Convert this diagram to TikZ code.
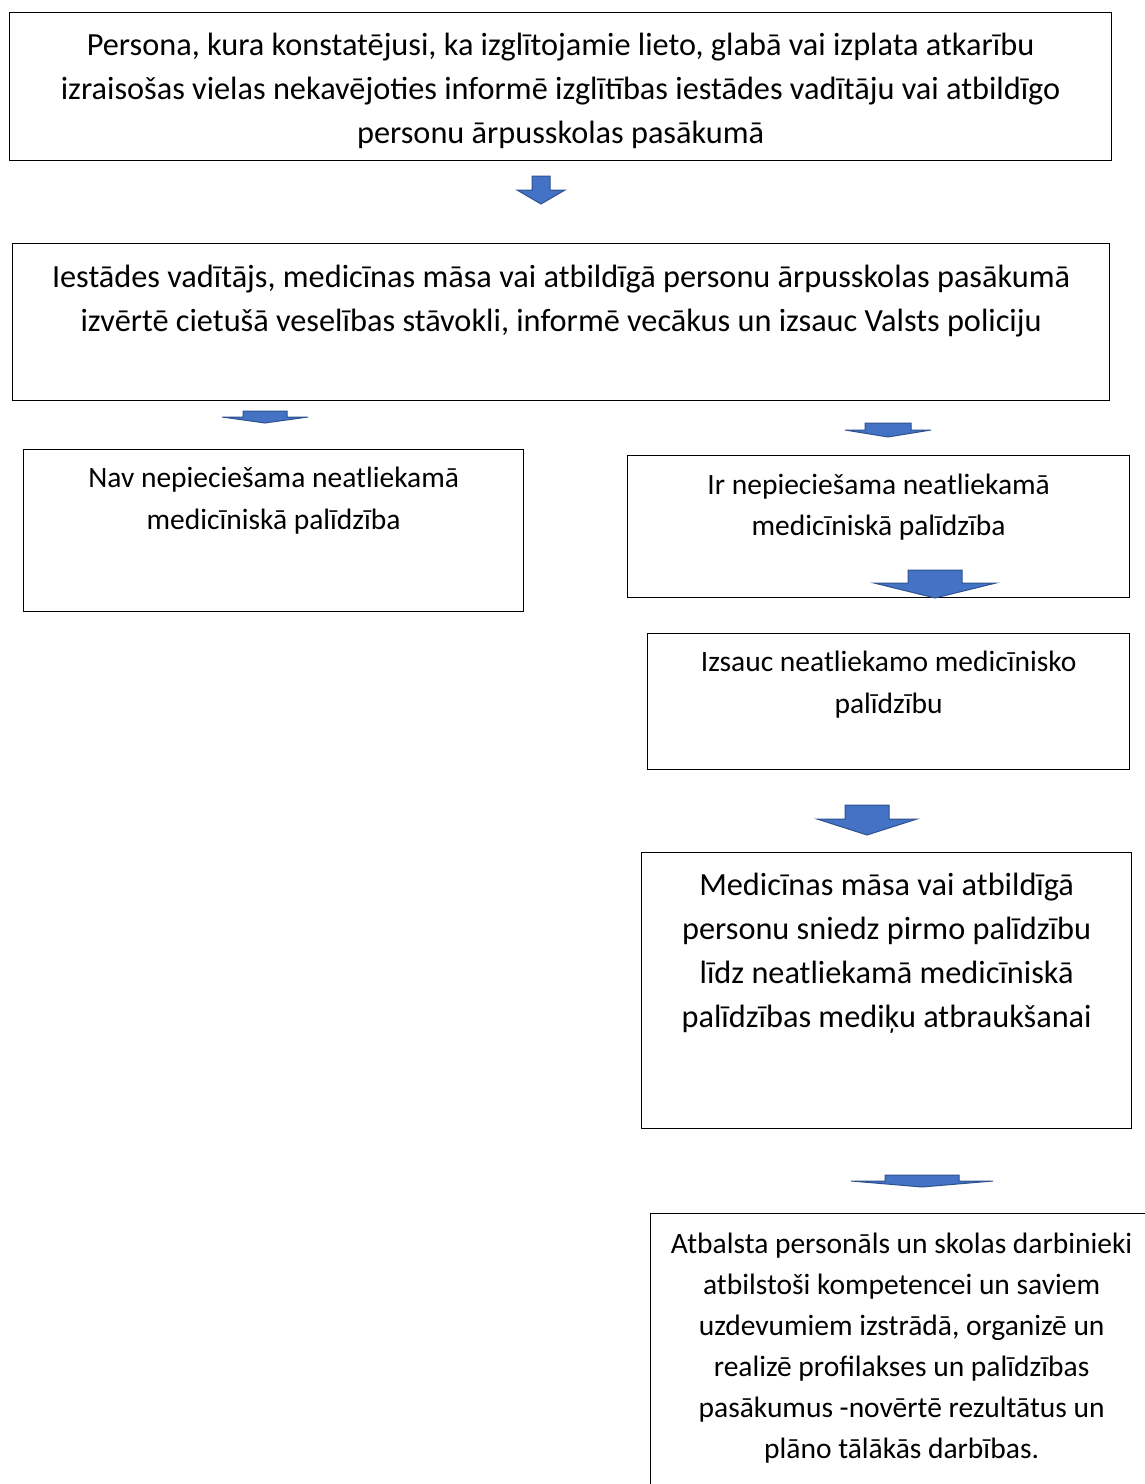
\documentclass[tikz,border=0pt]{standalone}
\usepackage{fontspec}
\setmainfont{Carlito}
\usepackage{tikz}
\usetikzlibrary{positioning}
\usepackage{xcolor}
\definecolor{flowblue}{RGB}{68,114,196}
\definecolor{flowdark}{RGB}{47,82,143}
\tikzstyle{stepbox} = [rectangle, draw=black, line width=1.3pt, anchor=north west, inner sep=0pt]
\tikzstyle{bigtext} = [align=center, inner sep=0pt, font=\fontsize{32.3}{44}\selectfont]
\tikzstyle{smalltext} = [align=center, inner sep=0pt, font=\fontsize{29.5}{42}\selectfont]
\tikzstyle{blockarrow} = [fill=flowblue, draw=flowdark, line width=1pt, line join=miter]
% block arrow: centre x, top y, half shaft, half head, head y, tip y
\newcommand{\downblock}[6]{\filldraw[blockarrow] ({#1-#3},#2) -- ({#1+#3},#2) -- ({#1+#3},#5) -- ({#1+#4},#5) -- (#1,#6) -- ({#1-#4},#5) -- ({#1-#3},#5) -- cycle;}

\begin{document}
\begin{tikzpicture}[x=1pt, y=-1pt]
\useasboundingbox (0,0) rectangle (1145,1484);
\clip (0,0) rectangle (1145,1484);
\fill[white] (0,0) rectangle (1145,1484);

% boxes
\node (persona) [stepbox, minimum width=1102pt, minimum height=148pt] at (9,12) {};
\node (vaditajs) [stepbox, minimum width=1097pt, minimum height=157pt] at (12,243) {};
\node (nav) [stepbox, minimum width=500pt, minimum height=162pt] at (23,449) {};
\node (ir) [stepbox, minimum width=502pt, minimum height=142pt] at (627,455) {};
\node (izsauc) [stepbox, minimum width=482pt, minimum height=136pt] at (647,633) {};
\node (masa) [stepbox, minimum width=490pt, minimum height=276pt] at (641,852) {};
\node (atbalsts) [stepbox, minimum width=502pt, minimum height=300pt] at (650,1213) {};

% texts
\node (personatxt) [bigtext, below=20.5pt of persona.north] {Persona, kura konstatējusi, ka izglītojamie lieto, glabā vai izplata atkarību\\ izraisošas vielas nekavējoties informē izglītības iestādes vadītāju vai atbildīgo\\ personu ārpusskolas pasākumā};
\node (vaditajstxt) [bigtext, below=21.5pt of vaditajs.north] {Iestādes vadītājs, medicīnas māsa vai atbildīgā personu ārpusskolas pasākumā\\ izvērtē cietušā veselības stāvokli, informē vecākus un izsauc Valsts policiju};
\node (navtxt) [smalltext, below=18pt of nav.north] {Nav nepieciešama neatliekamā\\ medicīniskā palīdzība};
\node (irtxt) [smalltext, font=\fontsize{29.5}{41}\selectfont, below=19pt of ir.north] {Ir nepieciešama neatliekamā\\ medicīniskā palīdzība};
\node (izsauctxt) [smalltext, below=18pt of izsauc.north] {Izsauc neatliekamo medicīnisko\\ palīdzību};
\node (masatxt) [bigtext, below=20.5pt of masa.north] {Medicīnas māsa vai atbildīgā\\ personu sniedz pirmo palīdzību\\ līdz neatliekamā medicīniskā\\ palīdzības mediķu atbraukšanai};
\node (atbalststxt) [smalltext, font=\fontsize{29.5}{41}\selectfont, below=20pt of atbalsts.north] {Atbalsta personāls un skolas darbinieki\\ atbilstoši kompetencei un saviem\\ uzdevumiem izstrādā, organizē un\\ realizē profilakses un palīdzības\\ pasākumus -novērtē rezultātus un\\ plāno tālākās darbības.};

% arrows
\downblock{541}{176}{9}{24}{190}{204}
\downblock{265}{411}{22}{43}{417}{423}
\downblock{888}{423}{23}{43}{430}{437}
\downblock{935}{570}{27}{61}{583}{598}
\downblock{867}{805}{22}{50}{819}{835}
\downblock{922}{1175}{37}{71}{1181}{1187}
\end{tikzpicture}
\end{document}
